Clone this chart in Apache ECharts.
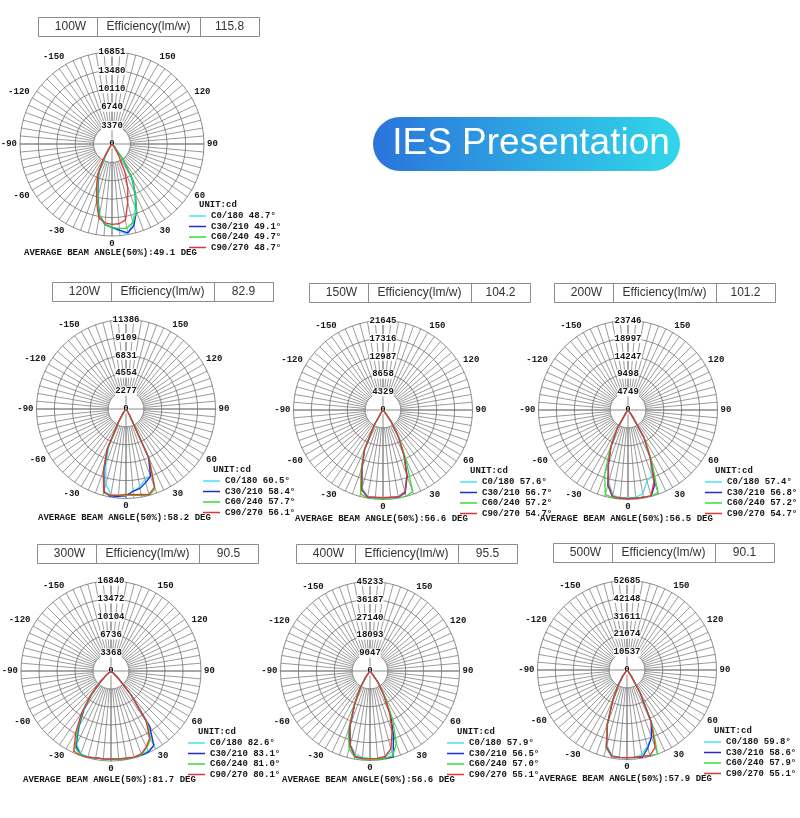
<!DOCTYPE html>
<html><head><meta charset="utf-8">
<script src="https://cdn.jsdelivr.net/npm/echarts@6.0.0/dist/echarts.min.js"></script>
<style>html,body{margin:0;padding:0;background:#fff}#c{width:800px;height:818px}</style>
</head><body><div id="c"></div>
<script>
// ---------- data ----------
const angles = [-90,-60,-50,-45,-40,-35,-30,-25,-20,-15,-10,-5,0,5,10,15,20,25,30,35,40,45,50,60,90];
const planeNames = ['C0/180','C30/210','C60/240','C90/270'];
const powers = ['100W','120W','150W','200W','300W','400W','500W'];
const efficiency = ['115.8','82.9','104.2','101.2','90.5','95.5','90.1'];
const avgBeam = ['49.1','58.2','56.6','56.5','81.7','56.6','57.9'];

const ticks100W = [3370,6740,10110,13480,16851];
const ticks120W = [2277,4554,6831,9109,11386];
const ticks150W = [4329,8658,12987,17316,21645];
const ticks200W = [4749,9498,14247,18997,23746];
const ticks300W = [3368,6736,10104,13472,16840];
const ticks400W = [9047,18093,27140,36187,45233];
const ticks500W = [10537,21074,31611,42148,52685];

const beams100W = ['48.7','49.1','49.7','48.7'];
const beams120W = ['60.5','58.4','57.7','56.1'];
const beams150W = ['57.6','56.7','57.2','54.7'];
const beams200W = ['57.4','56.8','57.2','54.7'];
const beams300W = ['82.6','83.1','81.0','80.1'];
const beams400W = ['57.9','56.5','57.0','55.1'];
const beams500W = ['59.8','58.6','57.9','55.1'];

const cd100W_C0  = [0,0,0,0,170,670,2020,5560,7410,9940,13140,14660,15170,16010,16851,14830,12470,9770,7080,3370,670,170,0,0,0];
const cd100W_C30 = [0,0,0,0,170,670,2190,5730,7580,10110,13310,14830,15330,15840,16510,15500,13140,10110,7580,3710,840,170,0,0,0];
const cd100W_C60 = [0,0,0,0,170,670,2190,5900,7750,10280,13310,14830,15330,15500,15670,14830,13140,10110,7580,3710,840,170,0,0,0];
const cd100W_C90 = [0,0,0,0,170,840,3370,6230,8260,10950,13820,14490,14740,14660,14150,11120,8430,5560,2360,670,170,0,0,0,0];

const cd120W_C0  = [0,0,0,0,230,570,1940,5120,7510,9910,11040,11040,11040,10590,10020,9340,9110,6830,910,230,0,0,0,0,0];
const cd120W_C30 = [0,0,0,0,230,570,1940,5580,8200,10820,11386,11160,11040,10480,10250,9680,9110,6830,910,230,0,0,0,0,0];
const cd120W_C60 = [0,0,0,0,230,570,1940,5690,8430,11040,11160,11040,10990,11040,11160,11386,10820,7060,910,230,0,0,0,0,0];
const cd120W_C90 = [0,0,0,0,230,570,1940,5690,8430,10930,11160,11040,10870,10930,11040,11270,10590,6830,910,230,0,0,0,0,0];

const cd150W_C0  = [0,0,0,0,0,870,4330,10390,14500,19480,21210,21210,21210,21210,21210,20350,16670,11900,7360,3250,650,0,0,0,0];
const cd150W_C30 = [0,0,0,0,0,870,4330,10610,14940,19910,21430,21210,21210,21210,21430,20780,17100,12120,7580,3460,650,0,0,0,0];
const cd150W_C60 = [0,0,0,0,0,870,4330,10820,15580,21000,21645,21430,21430,21430,21645,21645,21000,12990,7790,3460,650,0,0,0,0];
const cd150W_C90 = [0,0,0,0,0,870,4330,10610,14940,19910,21430,21210,21210,21210,21430,20560,16880,11900,7360,3250,650,0,0,0,0];

const cd200W_C0  = [0,0,0,0,0,950,5940,10690,14960,19710,23030,23270,23270,23270,22560,19470,18520,13770,8310,1900,240,0,0,0,0];
const cd200W_C30 = [0,0,0,0,0,950,5940,10690,15200,20660,23510,23510,23510,23510,23510,23746,20900,14250,8550,1900,240,0,0,0,0];
const cd200W_C60 = [0,0,0,0,0,950,6170,11160,18050,23270,23510,23510,23510,23510,23510,23746,23270,14720,9020,2140,240,0,0,0,0];
const cd200W_C90 = [0,0,0,0,0,950,5940,10690,15200,20420,23270,23510,23510,23510,23510,23510,20180,14010,8310,1900,240,0,0,0,0];

const cd300W_C0  = [0,0,840,2530,5560,8760,11790,15160,16500,16670,16500,16500,16500,16500,16670,16840,16670,16500,16330,11790,5890,1940,510,0,0];
const cd300W_C30 = [0,0,840,2530,5560,8930,12120,15490,16670,16670,16500,16500,16500,16500,16670,16840,16840,16670,16000,12630,6060,2020,510,0,0];
const cd300W_C60 = [0,0,840,2690,5730,9260,12460,15830,16670,16670,16500,16500,16500,16500,16670,16840,16670,15830,14820,11790,5890,1940,510,0,0];
const cd300W_C90 = [0,0,1010,3030,6060,9600,13140,16500,16840,16670,16500,16500,16500,16500,16500,16670,16500,15660,14480,11450,5730,1850,510,0,0];

const cd400W_C0  = [0,0,0,0,0,3620,9950,18090,29400,38450,42520,43880,44330,44330,44330,42070,33470,24430,14020,7240,1360,0,0,0,0];
const cd400W_C30 = [0,0,0,0,0,3620,9950,18090,29850,38900,43880,44330,44330,44780,44780,45233,34830,24880,14470,7690,1360,0,0,0,0];
const cd400W_C60 = [0,0,0,0,0,3620,10400,19000,32120,40710,44330,44780,44780,44780,44780,44330,38900,27140,14930,7690,1360,0,0,0,0];
const cd400W_C90 = [0,0,0,0,0,3620,9950,18090,29850,38900,43880,44330,44330,44330,43880,40710,32570,23520,13570,6780,1360,0,0,0,0];

const cd500W_C0  = [0,0,0,0,530,4210,10540,19490,33190,45840,51100,51630,51630,51630,50580,46360,42150,33720,15280,4210,530,0,0,0,0];
const cd500W_C30 = [0,0,0,0,530,4210,10540,20020,33720,46890,51630,51630,51630,51630,52160,47420,42150,33720,15280,4210,530,0,0,0,0];
const cd500W_C60 = [0,0,0,0,530,4210,11060,20550,34250,47420,51630,51630,51630,51630,51630,52160,52685,34770,15810,4740,530,0,0,0,0];
const cd500W_C90 = [0,0,0,0,530,4210,10540,19490,33720,46890,51630,51630,51630,51630,51630,52160,48470,33720,15280,4210,530,0,0,0,0];

const charts = [
  {ticks: ticks100W, beams: beams100W, curves: [cd100W_C0, cd100W_C30, cd100W_C60, cd100W_C90]},
  {ticks: ticks120W, beams: beams120W, curves: [cd120W_C0, cd120W_C30, cd120W_C60, cd120W_C90]},
  {ticks: ticks150W, beams: beams150W, curves: [cd150W_C0, cd150W_C30, cd150W_C60, cd150W_C90]},
  {ticks: ticks200W, beams: beams200W, curves: [cd200W_C0, cd200W_C30, cd200W_C60, cd200W_C90]},
  {ticks: ticks300W, beams: beams300W, curves: [cd300W_C0, cd300W_C30, cd300W_C60, cd300W_C90]},
  {ticks: ticks400W, beams: beams400W, curves: [cd400W_C0, cd400W_C30, cd400W_C60, cd400W_C90]},
  {ticks: ticks500W, beams: beams500W, curves: [cd500W_C0, cd500W_C30, cd500W_C60, cd500W_C90]}
];

// ---------- layout / style ----------
const layout = [[112,144,92],[126,409,89.5],[383,410,89.5],[628,410,89.5],[111,671,90],[370,671,89.5],[627,670,89.5]];
const colors = ['#45e2f0','#1f2fcf','#35dc35','#e53535'];
const gridColor = '#707070';
const mono = '"Liberation Mono","DejaVu Sans Mono",monospace';
const sans = '"Liberation Sans",Arial,sans-serif';

const chart = echarts.init(document.getElementById('c'), null, {renderer:'canvas'});
const option = {animation:false, backgroundColor:'#fff', polar:[], angleAxis:[], radiusAxis:[], series:[], legend:[], graphic:{elements:[]}};
const G = option.graphic.elements;

function txt(x, y, text, font, fill, align) {
  return {type:'text', x:x, y:y, z:100, style:{text:text, font:font, fill:fill,
    align:align, verticalAlign:'middle', textAlign:align, textVerticalAlign:'middle'}};
}

// banner
G.push({type:'rect', shape:{x:373, y:117, width:307, height:54, r:27}, z:90,
  style:{fill:new echarts.graphic.LinearGradient(0,0,1,0,[{offset:0,color:'#2b74db'},{offset:1,color:'#31d7e9'}])}});
G.push(txt(531, 144, 'IES Presentation', '37px ' + sans, '#ffffff', 'center'));

charts.forEach((ch, i) => {
  const [cx, cy, R] = layout[i];
  const maxV = ch.ticks[ch.ticks.length - 1];
  const step = maxV / 5;
  const p0 = option.polar.length;
  option.polar.push({center:[cx, cy], radius:[0, R]});
  option.polar.push({center:[cx, cy], radius:[R / 5, R]});

  // data polar: full cross lines + concentric circles + intensity labels
  option.angleAxis.push({polarIndex:p0, type:'value', min:-180, max:180, interval:90, startAngle:90, clockwise:false, z:3,
    axisLine:{show:false}, axisTick:{show:false}, axisLabel:{show:false},
    splitLine:{show:true, lineStyle:{color:gridColor, width:0.8}}});
  option.radiusAxis.push({polarIndex:p0, type:'value', min:0, max:maxV, interval:step, z:4,
    axisLine:{show:false}, axisTick:{show:false},
    axisLabel:{show:true, margin:0, align:'center', verticalAlign:'middle', fontFamily:mono, fontSize:9, fontWeight:'bold', color:'#151515',
      backgroundColor:'#fff', padding:[0,0],
      formatter: v => { const k = Math.round(v / step); return k === 0 ? '0' : String(ch.ticks[k - 1]); }},
    splitLine:{show:true, lineStyle:{color:gridColor, width:0.8}}});

  // spoke polar: 5-degree spokes outside the inner circle + angle labels
  option.angleAxis.push({polarIndex:p0 + 1, type:'value', min:-180, max:180, interval:30, startAngle:90, clockwise:false, z:0,
    axisLine:{show:false}, axisTick:{show:false},
    axisLabel:{show:true, margin:3, fontFamily:mono, fontSize:9, fontWeight:'bold', color:'#151515',
      formatter: v => (Math.abs(v) === 180 ? '' : String(v))},
    splitLine:{show:true, lineStyle:{color:gridColor, width:0.7}},
    minorTick:{show:false, splitNumber:6},
    minorSplitLine:{show:true, lineStyle:{color:gridColor, width:0.7}}});
  option.radiusAxis.push({polarIndex:p0 + 1, type:'value', min:0, max:1, show:false});

  // keep the central hole free of spokes
  G.push({type:'circle', shape:{cx:cx, cy:cy, r:R / 5 - 0.6}, z:1, silent:true, style:{fill:'#fff'}});

  const names = [];
  ch.curves.forEach((vals, j) => {
    const name = planeNames[j] + ' ' + ch.beams[j] + '°';
    names.push(name);
    option.series.push({type:'line', name:name, coordinateSystem:'polar', polarIndex:p0, symbol:'none', smooth:false,
      lineStyle:{color:colors[j], width:1.3}, itemStyle:{color:colors[j]}, z:10,
      data: angles.map((a, k) => [vals[k], a])});
  });

  option.legend.push({data:names, orient:'vertical', left:cx + 77, top:cy + 67, padding:0, itemGap:0.5,
    itemWidth:17, itemHeight:1.5, icon:'rect', selectedMode:false,
    textStyle:{fontFamily:mono, fontSize:9, fontWeight:'bold', color:'#151515', lineHeight:10}});

  // header table
  const L = cx - 74, T = cy - 127;
  G.push({type:'rect', shape:{x:L + 0.5, y:T + 0.5, width:221, height:19}, z:90, style:{fill:'#fff', stroke:'#8c8c8c', lineWidth:1}});
  G.push({type:'line', shape:{x1:L + 59.5, y1:T + 0.5, x2:L + 59.5, y2:T + 19.5}, z:91, style:{stroke:'#8c8c8c', lineWidth:1}});
  G.push({type:'line', shape:{x1:L + 162.5, y1:T + 0.5, x2:L + 162.5, y2:T + 19.5}, z:91, style:{stroke:'#8c8c8c', lineWidth:1}});
  G.push(txt(L + 32.5, T + 10, powers[i], '12px ' + sans, '#333', 'center'));
  G.push(txt(L + 110.5, T + 10, 'Efficiency(lm/w)', '12px ' + sans, '#333', 'center'));
  G.push(txt(L + 191.5, T + 10, efficiency[i], '12px ' + sans, '#333', 'center'));

  G.push(txt(cx + 87, cy + 61, 'UNIT:cd', 'bold 9px ' + mono, '#151515', 'left'));
  G.push(txt(cx - 88, cy + 108.5, 'AVERAGE BEAM ANGLE(50%):' + avgBeam[i] + ' DEG', 'bold 9px ' + mono, '#151515', 'left'));
});

chart.setOption(option);
</script>
</body></html>
